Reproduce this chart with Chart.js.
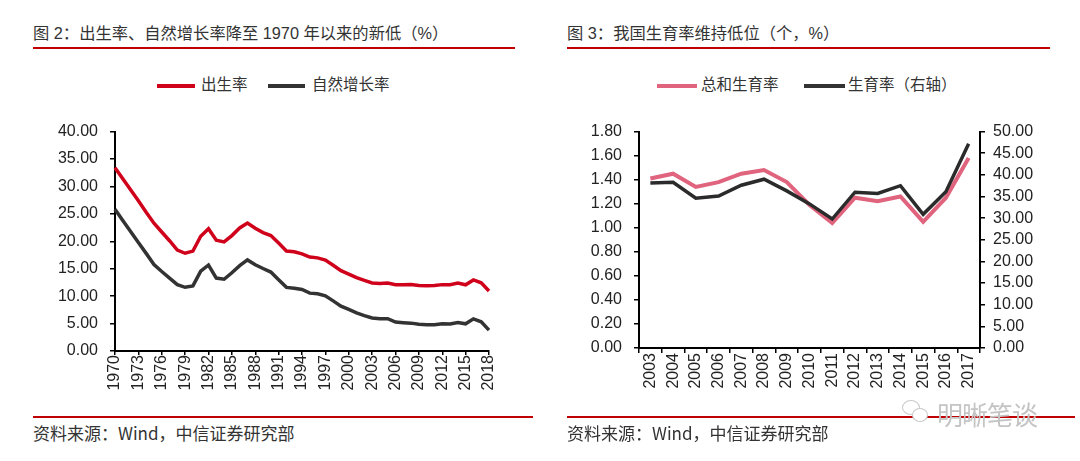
<!DOCTYPE html>
<html><head><meta charset="utf-8">
<script src="https://cdn.jsdelivr.net/npm/chart.js@4.4.0/dist/chart.umd.min.js"></script>
<style>
body{margin:0;width:1080px;height:461px;background:#fff;position:relative;overflow:hidden;font-family:"Liberation Sans","Noto Sans CJK SC",sans-serif;color:#333;}
.abs{position:absolute;white-space:nowrap;}
.title{font-size:16.3px;color:#333;top:23px;line-height:20px;}
.rule{height:2px;background:#c00000;}
.leg{font-size:15.5px;color:#333;top:76px;line-height:18px;}
.sw{height:4px;top:84px;}
.src{font-size:17px;color:#333;top:423px;line-height:20px;font-family:"Noto Sans CJK SC",sans-serif;}
canvas{position:absolute;}
.wm{border:1.5px solid #c8c8c8;border-radius:50%;}
</style></head>
<body>
<div class="abs title" style="left:33px;">图 2：出生率、自然增长率降至 1970 年以来的新低（%）</div>
<div class="abs rule" style="left:33px;top:47px;width:482px;"></div>
<div class="abs title" style="left:567px;">图 3：我国生育率维持低位（个，%）</div>
<div class="abs rule" style="left:567px;top:47px;width:483px;"></div>

<div class="abs sw" style="left:157px;width:38px;background:#d0021b;"></div>
<div class="abs leg" style="left:201px;">出生率</div>
<div class="abs sw" style="left:268px;width:37px;background:#333;"></div>
<div class="abs leg" style="left:312px;">自然增长率</div>

<div class="abs sw" style="left:657px;width:40px;background:#e0647e;"></div>
<div class="abs leg" style="left:701px;">总和生育率</div>
<div class="abs sw" style="left:804px;width:41px;background:#333;"></div>
<div class="abs leg" style="left:848px;">生育率（右轴）</div>

<canvas id="c1" width="540" height="290" style="left:0;top:110px;"></canvas>
<canvas id="c2" width="540" height="290" style="left:540px;top:110px;"></canvas>

<div class="abs rule" style="left:33px;top:416px;width:500px;"></div>
<div class="abs rule" style="left:567px;top:416px;width:508px;"></div>
<div class="abs src" style="left:33px;">资料来源：Wind，中信证券研究部</div>
<div class="abs src" style="left:567px;">资料来源：Wind，中信证券研究部</div>
<div class="abs wm" style="left:902px;top:400px;width:16px;height:13px;"></div>
<div class="abs wm" style="left:912px;top:408px;width:14px;height:12px;background:#fff;"></div>
<div class="abs" style="left:937px;top:395px;font-size:26px;color:#c4c4c4;font-family:'Noto Sans CJK SC';letter-spacing:-1px;">明晰笔谈</div>

<script>
// ---- Chart 1 data ----
const years1 = [1970,1971,1972,1973,1974,1975,1976,1977,1978,1979,1980,1981,1982,1983,1984,1985,1986,1987,1988,1989,1990,1991,1992,1993,1994,1995,1996,1997,1998,1999,2000,2001,2002,2003,2004,2005,2006,2007,2008,2009,2010,2011,2012,2013,2014,2015,2016,2017,2018];
const birthRate = [33.43,31.4,29.4,27.4,25.3,23.3,21.7,20.1,18.4,17.82,18.21,20.91,22.28,20.19,19.90,21.04,22.43,23.33,22.37,21.58,21.06,19.68,18.24,18.09,17.70,17.12,16.98,16.57,15.64,14.64,14.03,13.38,12.86,12.41,12.29,12.40,12.09,12.10,12.14,11.95,11.90,11.93,12.10,12.08,12.37,12.07,12.95,12.43,10.94];
const naturalGrowth = [25.83,23.8,21.8,19.8,17.8,15.77,14.5,13.3,12.1,11.61,11.87,14.55,15.68,13.29,13.08,14.26,15.57,16.61,15.73,15.04,14.39,12.98,11.60,11.45,11.21,10.55,10.42,10.06,9.14,8.18,7.58,6.95,6.45,6.01,5.87,5.89,5.28,5.17,5.08,4.87,4.79,4.79,4.95,4.92,5.21,4.96,5.86,5.32,3.81];
const yTicks1 = [0,5,10,15,20,25,30,35,40];

// ---- Chart 2 data ----
const years2 = [2003,2004,2005,2006,2007,2008,2009,2010,2011,2012,2013,2014,2015,2016,2017];
const tfr = [1.41,1.45,1.34,1.38,1.45,1.48,1.38,1.19,1.04,1.25,1.22,1.26,1.05,1.25,1.58];
const fertility = [38.1,38.3,34.6,35.1,37.6,39.0,36.3,33.3,29.8,36.0,35.7,37.5,30.9,36.1,47.2];
const yTicksLeft2 = [0,0.2,0.4,0.6,0.8,1.0,1.2,1.4,1.6,1.8];
const yTicksRight2 = [0,5,10,15,20,25,30,35,40,45,50];

const FONT = {family:"Liberation Sans", size:16};
const TXT = '#222';
const axisBorder = {color:'#000', width:2};

function yAxis(ticksArr, pos, width, pad){
  return {
    type:'linear', position:pos, min:ticksArr[0], max:ticksArr[ticksArr.length-1],
    afterBuildTicks: s => { s.ticks = ticksArr.map(v=>({value:v})); },
    ticks:{font:FONT, color:TXT, padding:pad, autoSkip:false, callback:v=>Number(v).toFixed(2)},
    grid:{display:true, drawOnChartArea:false, tickLength:5, color:'#000', lineWidth:1.5},
    border:axisBorder,
    afterFit: s => { s.width = width; }
  };
}

new Chart(document.getElementById('c1'), {
  type:'line',
  data:{
    labels: years1.map(String),
    datasets:[
      {label:'出生率', data:birthRate, borderColor:'#d0021b', borderWidth:3.5},
      {label:'自然增长率', data:naturalGrowth, borderColor:'#333333', borderWidth:3.5}
    ]
  },
  options:{
    responsive:false, animation:false, devicePixelRatio:1,
    layout:{padding:{top:13, right:51, left:0, bottom:0}},
    plugins:{legend:{display:false}, tooltip:{enabled:false}},
    elements:{point:{radius:0}, line:{tension:0}},
    scales:{
      x:{type:'category', offset:false,
        ticks:{autoSkip:false, maxRotation:90, minRotation:90, font:FONT, color:TXT, padding:0,
          callback:(v,i)=> i%3===0 ? String(years1[i]) : null},
        grid:{display:true, drawOnChartArea:false, tickLength:4, color:'#000', lineWidth:1.5},
        border:axisBorder,
        afterFit: s => { s.height = 49; }
      },
      y: yAxis(yTicks1,'left',115,12)
    }
  }
});

new Chart(document.getElementById('c2'), {
  type:'line',
  data:{
    labels: years2.map(String),
    datasets:[
      {label:'总和生育率', data:tfr, borderColor:'#e0647e', borderWidth:4, yAxisID:'y', order:1},
      {label:'生育率（右轴）', data:fertility, borderColor:'#2b2b2b', borderWidth:3.5, yAxisID:'y1', order:0}
    ]
  },
  options:{
    responsive:false, animation:false, devicePixelRatio:1,
    layout:{padding:{top:13, right:0, left:0, bottom:0}},
    plugins:{legend:{display:false}, tooltip:{enabled:false}},
    elements:{point:{radius:0}, line:{tension:0}},
    scales:{
      x:{type:'category', offset:true,
        ticks:{autoSkip:false, maxRotation:90, minRotation:90, font:FONT, color:TXT, padding:0},
        grid:{display:true, drawOnChartArea:false, offset:true, tickLength:5, color:'#000', lineWidth:1.5},
        border:axisBorder,
        afterFit: s => { s.height = 52; }
      },
      y: yAxis(yTicksLeft2,'left',99,12),
      y1: yAxis(yTicksRight2,'right',100,8)
    }
  }
});
</script>
</body></html>
